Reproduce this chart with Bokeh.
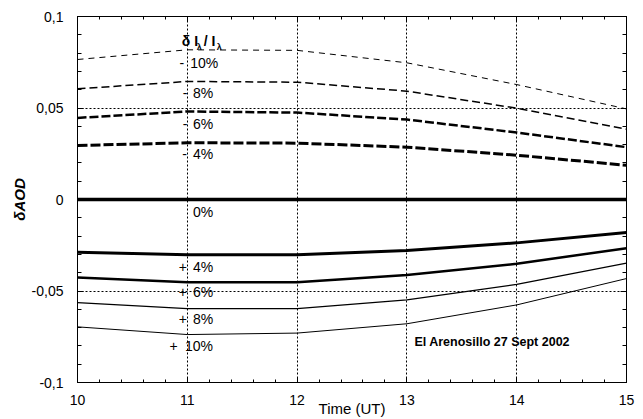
import numpy as np
from bokeh.plotting import figure
from bokeh.models import Label, LinearAxis, FixedTicker, Range1d
from bokeh.embed import file_html
from bokeh.resources import INLINE

# ---------------- data ----------------
hours = [10, 11, 12, 13, 14, 15]
d_minus10 = [0.0765, 0.0818, 0.0815, 0.0747, 0.0628, 0.0495]
d_minus8 = [0.0605, 0.0645, 0.0641, 0.0592, 0.0499, 0.0384]
d_minus6 = [0.0446, 0.0481, 0.0475, 0.0437, 0.0366, 0.0286]
d_minus4 = [0.0295, 0.0310, 0.0308, 0.0286, 0.0242, 0.0187]
d_zero = [0.0, 0.0, 0.0, 0.0, 0.0, 0.0]
d_plus4 = [-0.0288, -0.0302, -0.0302, -0.0279, -0.0237, -0.0180]
d_plus6 = [-0.0426, -0.0452, -0.0452, -0.0413, -0.0351, -0.0266]
d_plus8 = [-0.0563, -0.0596, -0.0596, -0.0548, -0.0464, -0.0348]
d_plus10 = [-0.0696, -0.0738, -0.0730, -0.0679, -0.0576, -0.0432]

pct_numbers = ["10%", "8%", "6%", "4%", "0%", "4%", "6%", "8%", "10%"]
pct_signs = ["-", "-", "-", "-", "", "+", "+", "+", "+"]

x_ticks = [10, 11, 12, 13, 14, 15]
x_tick_labels = ["10", "11", "12", "13", "14", "15"]
y_ticks = [-0.1, -0.05, 0.0, 0.05, 0.1]
y_tick_labels = ["-0,1", "-0,05", "0", "0,05", "0,1"]

title_text = "El Arenosillo 27 Sept 2002"
x_title = "Time (UT)"
y_title = "δAOD"

FONT = "Liberation Sans"

# ---------------- figure ----------------
p = figure(width=643, height=419, output_backend="svg", toolbar_location=None,
           x_range=Range1d(10, 15), y_range=Range1d(-0.1, 0.1),
           min_border_left=77, min_border_right=17, min_border_top=16,
           min_border_bottom=37)
p.background_fill_color = "white"
p.border_fill_color = "white"
p.outline_line_color = "black"
p.outline_line_width = 1

x_minor = [float(v) for v in np.round(np.arange(10, 15.001, 0.2), 3)]
y_minor = [float(v) for v in np.round(np.arange(-0.1, 0.1001, 0.01), 3)]

def style_axis(ax, ticks, minor, labels, font_size, standoff, tick_in, minor_in):
    ax.ticker = FixedTicker(ticks=ticks, minor_ticks=minor)
    ax.major_label_overrides = dict(zip(ticks, labels))
    ax.major_label_text_font = FONT
    ax.major_label_text_font_size = font_size
    ax.major_label_text_color = "black"
    ax.major_label_standoff = standoff
    ax.major_tick_in = tick_in
    ax.major_tick_out = 0
    ax.minor_tick_in = minor_in
    ax.minor_tick_out = 0
    ax.axis_line_color = "black"
    ax.major_tick_line_color = "black"
    ax.minor_tick_line_color = "black"

style_axis(p.xaxis[0], x_ticks, x_minor, x_tick_labels, "14px", 12, 5, 3)
style_axis(p.yaxis[0], y_ticks, y_minor, y_tick_labels, "14px", 14, 6, 4)

p.xaxis[0].axis_label = x_title
p.xaxis[0].axis_label_text_font = FONT
p.xaxis[0].axis_label_text_font_size = "15px"
p.xaxis[0].axis_label_text_font_style = "normal"
p.xaxis[0].axis_label_text_color = "black"
p.xaxis[0].axis_label_standoff = -8

p.yaxis[0].axis_label = y_title
p.yaxis[0].axis_label_text_font = FONT
p.yaxis[0].axis_label_text_font_size = "15px"
p.yaxis[0].axis_label_text_font_style = "bold italic"
p.yaxis[0].axis_label_text_color = "black"
p.yaxis[0].axis_label_standoff = 1

top_ax = LinearAxis()
style_axis(top_ax, x_ticks, x_minor, ["" for _ in x_ticks], "0px", 0, 5, 3)
p.add_layout(top_ax, "above")
right_ax = LinearAxis()
style_axis(right_ax, y_ticks, y_minor, ["" for _ in y_ticks], "0px", 0, 6, 4)
p.add_layout(right_ax, "right")

p.xgrid.ticker = FixedTicker(ticks=[11, 12, 13, 14])
p.ygrid.ticker = FixedTicker(ticks=[-0.05, 0.05])
for g in (p.xgrid[0], p.ygrid[0]):
    g.grid_line_color = "black"
    g.grid_line_dash = "2 2"
    g.grid_line_width = 1

# ---------------- lines ----------------
series = [
    (d_minus10, 1.0, "6 5"),
    (d_minus8, 1.5, "8 4"),
    (d_minus6, 2.5, "9 3"),
    (d_minus4, 3.0, "10 3"),
    (d_zero, 3.5, "solid"),
    (d_plus4, 3.0, "solid"),
    (d_plus6, 2.5, "solid"),
    (d_plus8, 1.3, "solid"),
    (d_plus10, 1.0, "solid"),
]
for vals, lw, dash in series:
    p.line(hours, vals, line_color="black", line_width=lw, line_dash=dash)

# ---------------- annotations ----------------
# helpers mapping reference pixel positions to data coordinates
def xd(px):
    return 10 + (px - 77.3) / 109.74

def yd(py):
    return (199.0 - py) / 1831.0

def add_label(text, px, py, size="14px", align="left", baseline="middle",
              style="normal"):
    p.add_layout(Label(x=xd(px), y=yd(py), text=text, text_font=FONT,
                       text_font_size=size, text_align=align,
                       text_baseline=baseline, text_font_style=style,
                       text_color="black"))

# header  δ I_λ / I_λ
add_label("δ I", 181.5, 40.5, "14px", "left", "alphabetic", "bold")
add_label("λ", 196.5, 46.5, "9px", "left", "alphabetic", "bold")
add_label("/ I", 203.5, 40.5, "14px", "left", "alphabetic", "bold")
add_label("λ", 216.5, 46.5, "9px", "left", "alphabetic", "bold")

# percentage labels
num_right = [218, 213, 213, 213, 213, 213, 213, 213, 212.7]
sign_cx = [181.5, 184.7, 184.7, 184.3, 0, 182.5, 182.5, 182.5, 173.3]
label_cy = [62, 92, 123, 153, 212, 266.7, 292, 319, 346]
for num, sign, xr, xs, yc in zip(pct_numbers, pct_signs, num_right, sign_cx, label_cy):
    add_label(num, xr, yc, "14px", "right", "middle")
    if sign:
        add_label(sign, xs, yc, "14px", "center", "middle")

# site label
add_label(title_text, 414, 342, "12.5px", "left", "middle", "bold")

open("out.html", "w").write(file_html(p, INLINE))
